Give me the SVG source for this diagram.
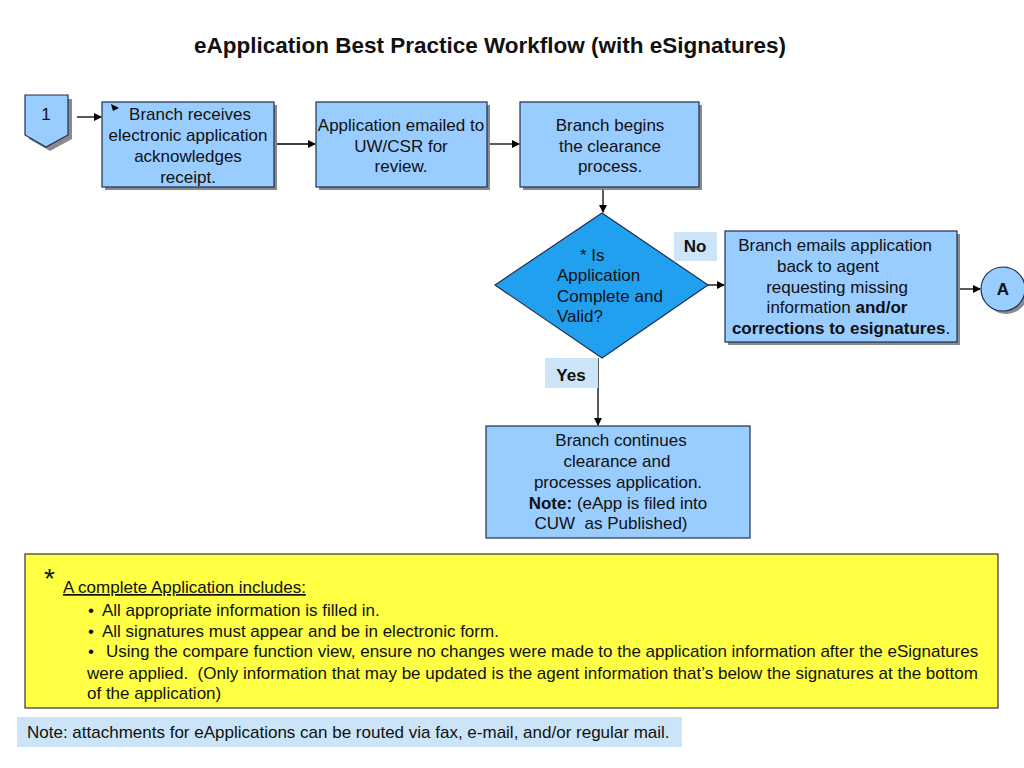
<svg xmlns="http://www.w3.org/2000/svg" width="1024" height="768" viewBox="0 0 1024 768">
<defs>
<style>
text{font-family:"Liberation Sans",Arial,sans-serif;fill:#111;font-size:17px;}
.t{text-anchor:middle;}
.box{fill:#99ccff;stroke:#1f2f4f;stroke-width:1.2;}
.sh{fill:#8a8a8a;}
.lab{fill:#cce4f7;}
.b{font-weight:bold;}
.ln{stroke:#000;stroke-width:1.3;fill:none;}
</style>
<marker id="ah" markerWidth="8" markerHeight="8" refX="7" refY="4" orient="auto" markerUnits="userSpaceOnUse">
<path d="M0,0 L8,4 L0,8 Z" fill="#000"/>
</marker>
</defs>
<rect width="1024" height="768" fill="#fff"/>
<text x="490" y="53" style="font-size:22.5px;font-weight:bold;text-anchor:middle">eApplication Best Practice Workflow (with eSignatures)</text>

<g id="connectors">
<line class="ln" x1="77" y1="117" x2="101" y2="117" marker-end="url(#ah)"/>
<line class="ln" x1="274" y1="144" x2="315" y2="144" marker-end="url(#ah)"/>
<line class="ln" x1="487" y1="144" x2="519" y2="144" marker-end="url(#ah)"/>
<line class="ln" x1="603" y1="187" x2="603" y2="212" marker-end="url(#ah)"/>
<line class="ln" x1="708" y1="285" x2="724" y2="285" marker-end="url(#ah)"/>
<line class="ln" x1="957" y1="289" x2="980" y2="289" marker-end="url(#ah)"/>
<line class="ln" x1="598" y1="358" x2="598" y2="425" marker-end="url(#ah)"/>
</g>

<g id="node-1">
<path class="sh" d="M29,99 H72 V139 L50,151 L29,139 Z"/>
<path d="M25,95 H68 V135 L46,147 L25,135 Z" fill="#99ccff" stroke="#1f2f4f" stroke-width="1.2"/>
<text class="t" x="46" y="120">1</text>
</g>

<g id="node-receive">
<rect class="sh" x="105" y="105" width="172" height="85"/>
<rect class="box" x="102" y="102" width="172" height="85"/>
<path d="M111,104 L119,108 L113,111 Z" fill="#000"/>
<text class="t" x="190" y="120">Branch receives</text>
<text class="t" x="188" y="141">electronic application</text>
<text class="t" x="188" y="162">acknowledges</text>
<text class="t" x="188" y="183">receipt.</text>
</g>

<g id="node-emailed">
<rect class="sh" x="319" y="105" width="171" height="85"/>
<rect class="box" x="316" y="102" width="171" height="85"/>
<text class="t" x="401" y="131">Application emailed to</text>
<text class="t" x="401" y="152">UW/CSR for</text>
<text class="t" x="401" y="172">review.</text>
</g>

<g id="node-clearance">
<rect class="sh" x="523" y="105" width="179" height="85"/>
<rect class="box" x="520" y="102" width="179" height="85"/>
<text class="t" x="610" y="131">Branch begins</text>
<text class="t" x="610" y="152">the clearance</text>
<text class="t" x="610" y="172">process.</text>
</g>

<g id="node-decision">
<path d="M602,213 L708,285 L602,358 L495,285 Z" fill="#22a0f0" stroke="#1f2f4f" stroke-width="1.2"/>
<text x="580" y="261">* Is</text>
<text x="557" y="281">Application</text>
<text x="557" y="302">Complete and</text>
<text x="557" y="322">Valid?</text>
</g>

<g id="label-no">
<rect class="lab" x="674" y="232" width="43" height="29"/>
<text class="t b" x="695" y="252">No</text>
</g>

<g id="node-emails-back">
<rect class="sh" x="728" y="234" width="232" height="111"/>
<rect class="box" x="725" y="231" width="232" height="111"/>
<text class="t" x="835" y="251">Branch emails application</text>
<text class="t" x="828" y="272">back to agent</text>
<text class="t" x="837" y="293">requesting missing</text>
<text class="t" x="837" y="313">information <tspan class="b">and/or</tspan></text>
<text class="t" x="841" y="334"><tspan class="b">corrections to esignatures</tspan>.</text>
</g>

<g id="node-A">
<circle class="sh" cx="1006" cy="292" r="22"/>
<circle cx="1003" cy="289" r="22" fill="#99ccff" stroke="#1f2f4f" stroke-width="1.2"/>
<text class="t b" x="1003" y="295">A</text>
</g>

<g id="label-yes">
<rect class="lab" x="545" y="358" width="53" height="30"/>
<text class="t b" x="571" y="381">Yes</text>
</g>

<g id="node-continues">
<rect class="box" x="486" y="426" width="264" height="112"/>
<text class="t" x="621" y="446">Branch continues</text>
<text class="t" x="617" y="467">clearance and</text>
<text class="t" x="618" y="488">processes application.</text>
<text class="t" x="618" y="509"><tspan class="b">Note:</tspan> (eApp is filed into</text>
<text class="t" x="611" y="529" xml:space="preserve">CUW  as Published)</text>
</g>

<g id="note-complete">
<rect x="25" y="554" width="973" height="154" fill="#ffff44" stroke="#333" stroke-width="1.2"/>
<text x="44" y="588" style="font-size:28px">*</text>
<text x="63" y="593" style="text-decoration:underline">A complete Application includes:</text>
<text x="88" y="616">•<tspan x="102">All appropriate information is filled in.</tspan></text>
<text x="88" y="637">•<tspan x="102">All signatures must appear and be in electronic form.</tspan></text>
<text x="88" y="657">•<tspan x="106">Using the compare function view, ensure no changes were made to the application information after the eSignatures</tspan></text>
<text x="87" y="679" xml:space="preserve">were applied.  (Only information that may be updated is the agent information that’s below the signatures at the bottom</text>
<text x="87" y="699">of the application)</text>
</g>

<g id="note-attachments">
<rect class="lab" x="17" y="717" width="665" height="30"/>
<text x="27" y="738">Note: attachments for eApplications can be routed via fax, e-mail, and/or regular mail.</text>
</g>
</svg>
